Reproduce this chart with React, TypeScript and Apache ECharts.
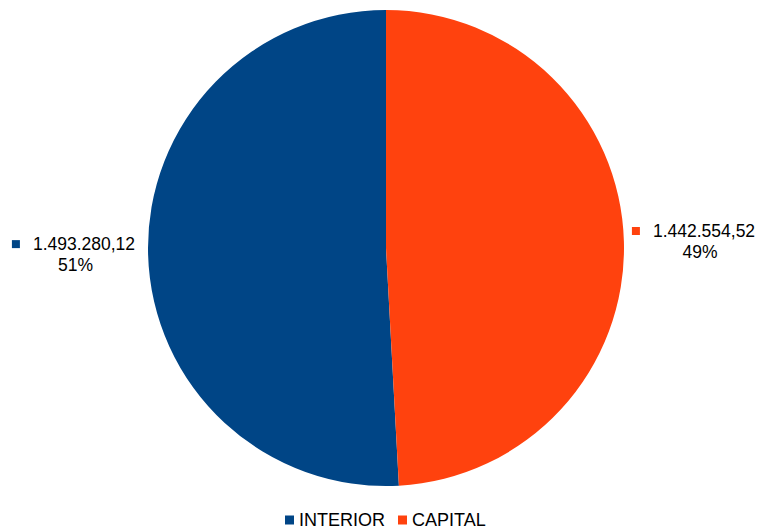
import React, { useEffect, useRef } from "react";
import * as echarts from "echarts";

const categories = ["INTERIOR", "CAPITAL"];
const values = [1493280.12, 1442554.52];
const colors = ["#004586", "#ff420e"];

function fmt(v: number): string {
  const [i, d] = v.toFixed(2).split(".");
  return i.replace(/\B(?=(\d{3})+(?!\d))/g, ".") + "," + d;
}

export default function App() {
  const ref = useRef<HTMLDivElement>(null);
  useEffect(() => {
    if (!ref.current) return;
    const chart = echarts.init(ref.current, undefined, { renderer: "svg" });
    const total = values.reduce((a, b) => a + b, 0);
    const lineLen = [
      { length: 6, length2: 2 },
      { length: 1, length2: 2 },
    ];
    const pctPad = [
      [0, 0, 0, 6],
      [0, 0, 0, 20],
    ];
    chart.setOption({
      animation: false,
      textStyle: { fontFamily: "Liberation Sans" },
      legend: {
        bottom: -4,
        left: 280,
        itemWidth: 9,
        itemHeight: 9,
        itemGap: 13,
        icon: "rect",
        textStyle: { fontSize: 18, color: "#000" },
        data: categories,
      },
      series: [
        {
          type: "pie",
          center: [386, 248],
          radius: 238,
          clockwise: false,
          startAngle: 90,
          label: {
            show: true,
            position: "outside",
            overflow: "none",
            edgeDistance: 0,
            color: "#000",
            fontSize: 17.5,
            lineHeight: 21,
            formatter: (p: any) =>
              "{m|}{s|}{v|" +
              fmt(p.value) +
              "}\n{p|" +
              Math.round((p.value / total) * 100) +
              "%}",
          },
          data: categories.map((name, i) => ({
            name,
            value: values[i],
            itemStyle: { color: colors[i] },
            labelLine: { show: false, ...lineLen[i] },
            label: {
              rich: {
                m: { width: 8, height: 8, backgroundColor: colors[i] },
                s: { width: 13 },
                v: { fontSize: 17.5, color: "#000" },
                p: { width: 124, align: "center", fontSize: 17.5, color: "#000", padding: pctPad[i] },
              },
            },
          })),
        },
      ],
    });
    return () => chart.dispose();
  }, []);
  return (
    <div
      ref={ref}
      style={{ position: "fixed", left: 0, top: 0, width: 758, height: 530, background: "#fff" }}
    />
  );
}
